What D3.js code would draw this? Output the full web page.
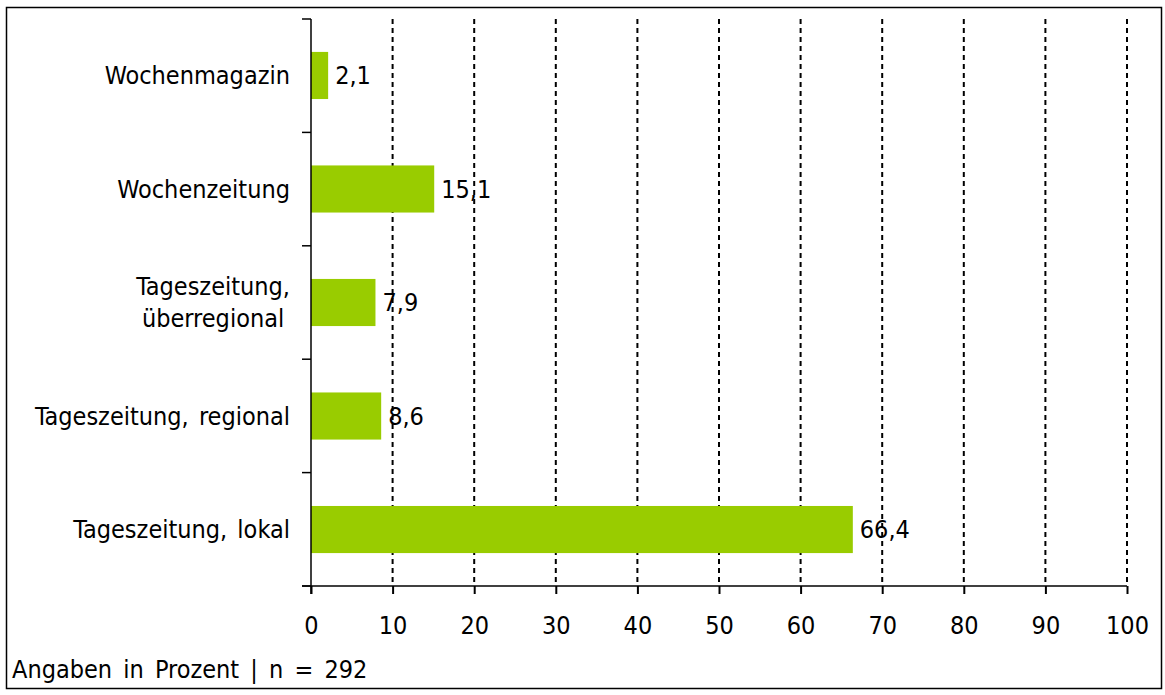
<!DOCTYPE html>
<html>
<head>
<meta charset="utf-8">
<script src="https://cdn.jsdelivr.net/npm/d3@7"></script>
<style>
  body { margin: 0; background: #fff; }
  text { font-family: "DejaVu Sans Condensed", "DejaVu Sans", sans-serif; fill: #000; }
</style>
</head>
<body>
<svg id="chart" width="1165" height="695"></svg>
<script>
// values
let categories = ["Wochenmagazin", "Wochenzeitung", "Tageszeitung,\nüberregional", "Tageszeitung, regional", "Tageszeitung, lokal"];
let values = [2.1, 15.1, 7.9, 8.6, 66.4];
let xTicks = [0, 10, 20, 30, 40, 50, 60, 70, 80, 90, 100];
let footnote = "Angaben in Prozent | n = 292";

let fontSize = 25;
let svg = d3.select("#chart");

// outer frame
svg.append('rect')
    .attr('x', 6.5).attr('y', 7.5)
    .attr('width', 1155).attr('height', 681)
    .attr('fill', 'none').attr('stroke', '#000').attr('stroke-width', 1.5);

let plotLeft = 311, plotRight = 1127, plotTop = 19, plotBottom = 586;

let x = d3.scaleLinear().domain([0, 100]).range([plotLeft, plotRight]);
let y = d3.scaleBand().domain(categories).range([plotTop, plotBottom]).paddingInner(0.585).paddingOuter(0.29);

// dotted grid
svg.selectAll('.grid')
    .data(xTicks.filter(t => t > 0))
    .enter()
    .append('line')
    .attr('x1', t => x(t)).attr('x2', t => x(t))
    .attr('y1', plotTop).attr('y2', plotBottom)
    .attr('stroke', '#000').attr('stroke-width', 2)
    .attr('stroke-dasharray', '5,4');

// bars
svg.selectAll('.bar')
    .data(categories)
    .enter()
    .append('rect')
    .attr('x', x(0))
    .attr('y', c => y(c))
    .attr('width', (c, i) => x(values[i]) - x(0))
    .attr('height', y.bandwidth())
    .attr('fill', '#99cc00');

// y axis with ticks between categories
svg.append('line')
    .attr('x1', plotLeft).attr('x2', plotLeft).attr('y1', plotTop).attr('y2', plotBottom + 8)
    .attr('stroke', '#000').attr('stroke-width', 1.5);
let step = (plotBottom - plotTop) / categories.length;
svg.selectAll('.ytick')
    .data(d3.range(categories.length + 1))
    .enter()
    .append('line')
    .attr('x1', plotLeft - 9).attr('x2', plotLeft)
    .attr('y1', i => plotTop + i * step).attr('y2', i => plotTop + i * step)
    .attr('stroke', '#000').attr('stroke-width', 1.5);

// x axis
let xAxis = d3.axisBottom(x).tickValues(xTicks).tickSize(8).tickPadding(22);
let gx = svg.append('g')
    .attr('transform', 'translate(0,' + plotBottom + ')')
    .call(xAxis);
gx.select('.domain').remove();
gx.append('line')
    .attr('x1', plotLeft - 9).attr('x2', plotRight)
    .attr('stroke', '#000').attr('stroke-width', 1.5);
gx.selectAll('.tick line').attr('stroke', '#000').attr('stroke-width', 2);
gx.selectAll('.tick text')
    .style('font-size', fontSize + 'px')
    .style('font-family', '"DejaVu Sans Condensed", "DejaVu Sans", sans-serif')
    .attr('fill', '#000');

// category labels
svg.selectAll('.cat')
    .data(categories)
    .enter()
    .append('text')
    .attr('font-size', fontSize)
    .attr('word-spacing', 3)
    .each(function (c) {
        let lines = c.split('\n');
        let t = d3.select(this);
        let cy = y(c) + y.bandwidth() / 2;
        let lh = 32;
        lines.forEach((ln, k) => {
            t.append('tspan')
                .attr('y', cy + (k - (lines.length - 1) / 2) * lh)
                .attr('dy', '0.35em')
                .text(ln);
        });
        if (lines.length > 1) {
            let widths = [];
            t.selectAll('tspan').each(function () { widths.push(this.getComputedTextLength()); });
            let w = d3.max(widths);
            t.attr('text-anchor', 'middle');
            t.selectAll('tspan').attr('x', 290 - w / 2);
        } else {
            t.attr('text-anchor', 'end');
            t.selectAll('tspan').attr('x', 290);
        }
    });

// value labels
svg.selectAll('.val')
    .data(categories)
    .enter()
    .append('text')
    .attr('x', (c, i) => x(values[i]) + 7)
    .attr('y', c => y(c) + y.bandwidth() / 2)
    .attr('dy', '0.35em')
    .attr('font-size', fontSize)
    .text((c, i) => values[i].toFixed(1).replace('.', ','));

svg.append('text')
    .attr('x', 12).attr('y', 669)
    .attr('dy', '0.35em')
    .attr('font-size', fontSize)
    .attr('word-spacing', 4)
    .text(footnote);
</script>
</body>
</html>
